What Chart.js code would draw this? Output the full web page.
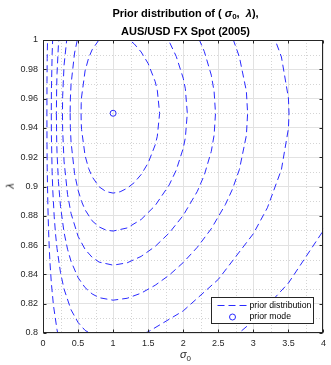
<!DOCTYPE html>
<html>
<head>
<meta charset="utf-8">
<script src="https://cdn.jsdelivr.net/npm/chart.js@4"></script>
<style>
  body { margin: 0; background: #fff; }
  #wrap { position: relative; width: 331px; height: 365px; font-family: "Liberation Sans", Arial, sans-serif; }
  #chart { position: absolute; left: 0; top: 0; }
  .title { position: absolute; left: 43px; width: 285px; text-align: center; font-weight: bold; font-size: 11px; line-height: 14px; color: #000; }
  .title sub { font-size: 8px; vertical-align: -2px; }
  .xlab { position: absolute; left: 43px; width: 285px; top: 348px; text-align: center; font-size: 11px; color: #262626; }
  .xlab sub { font-size: 8px; vertical-align: -3px; }
  .ylab { position: absolute; left: 7px; top: 180px; font-size: 11px; color: #262626; transform: rotate(-90deg); }
</style>
</head>
<body>
<div id="wrap">
  <canvas id="chart" width="331" height="365"></canvas>
  <div class="title" style="top:6px">Prior distribution of ( <i>σ</i><sub>0</sub>, &nbsp;<i>λ</i>),<br>AUS/USD FX Spot (2005)</div>
  <div class="xlab"><i>σ</i><sub>0</sub></div>
  <div class="ylab"><i>λ</i></div>
</div>
<script>
// axis ticks
const xTicks = [0, 0.5, 1, 1.5, 2, 2.5, 3, 3.5, 4];
const xTickLabels = ["0", "0.5", "1", "1.5", "2", "2.5", "3", "3.5", "4"];
const yTicks = [0.8, 0.82, 0.84, 0.86, 0.88, 0.9, 0.92, 0.94, 0.96, 0.98, 1];
const yTickLabels = ["0.8", "0.82", "0.84", "0.86", "0.88", "0.9", "0.92", "0.94", "0.96", "0.98", "1"];
const seriesLabels = ["prior distribution", "prior mode"];

// contour lines (sigma0, lambda), innermost first
const c1Sigma = [0.543, 0.545, 0.55, 0.6, 0.65, 0.7, 0.8, 0.9, 1.0, 1.1, 1.2, 1.3, 1.4, 1.5, 1.6, 1.63, 1.663,
  1.63, 1.6, 1.5, 1.4, 1.3, 1.2, 1.1, 1.0, 0.9, 0.8, 0.7, 0.65, 0.6, 0.55, 0.545, 0.543];
const c1Lambda = [0.95, 0.9435, 0.9389, 0.9211, 0.9124, 0.9067, 0.8998, 0.8965, 0.8955, 0.8964, 0.8988, 0.9026, 0.9082, 0.9161, 0.9284, 0.9343, 0.95,
  0.9657, 0.9716, 0.9839, 0.9918, 0.9974, 1.0012, 1.0036, 1.0045, 1.0035, 1.0002, 0.9933, 0.9876, 0.9789, 0.9611, 0.9565, 0.95];

const c2Sigma = [0.387, 0.39, 0.4, 0.45, 0.5, 0.55, 0.6, 0.7, 0.8, 0.9, 1.0, 1.2, 1.4, 1.6, 1.8, 1.9, 2.0, 2.03, 2.058,
  2.03, 2.0, 1.9, 1.8, 1.6, 1.4, 1.0, 0.6, 0.5, 0.45, 0.4, 0.39, 0.387];
const c2Lambda = [0.95, 0.9403, 0.9303, 0.9089, 0.8975, 0.8898, 0.8841, 0.8766, 0.8724, 0.8702, 0.8696, 0.8717, 0.8775, 0.887, 0.9011, 0.9112, 0.9261, 0.9333, 0.95,
  0.9667, 0.9739, 0.9888, 0.9989, 1.013, 1.0225, 1.0304, 1.0159, 1.0025, 0.9911, 0.9697, 0.9597, 0.95];

const c3Sigma = [0.2775, 0.28, 0.3, 0.35, 0.4, 0.5, 0.6, 0.7, 0.8, 1.0, 1.2, 1.4, 1.6, 1.8, 2.0, 2.2, 2.3, 2.4, 2.44, 2.46,
  2.44, 2.4, 2.3, 2.2, 2.0, 1.6, 1.0, 0.5, 0.4, 0.35, 0.3, 0.28, 0.2775];
const c3Lambda = [0.95, 0.9387, 0.9173, 0.8946, 0.8816, 0.866, 0.8571, 0.8517, 0.8484, 0.8463, 0.8479, 0.8523, 0.8591, 0.8683, 0.8803, 0.8966, 0.9078, 0.924, 0.9351, 0.95,
  0.9649, 0.976, 0.9922, 1.0034, 1.0197, 1.0409, 1.0537, 1.034, 1.0184, 1.0054, 0.9827, 0.9613, 0.95];

const c4Sigma = [0.1908, 0.195, 0.2, 0.22, 0.25, 0.3, 0.35, 0.4, 0.5, 0.6, 0.7, 0.8, 1.0, 1.2, 1.4, 1.6, 1.8, 2.0, 2.2, 2.4, 2.6, 2.7, 2.8, 2.9, 2.918,
  2.9, 2.8, 2.7, 2.6, 2.2, 1.6, 1.0, 0.5, 0.4, 0.35, 0.3, 0.25, 0.22, 0.2, 0.195, 0.1908];
const c4Lambda = [0.95, 0.9317, 0.923, 0.9033, 0.8863, 0.8687, 0.8572, 0.8489, 0.8378, 0.831, 0.8267, 0.8241, 0.8224, 0.8237, 0.8272, 0.8326, 0.8395, 0.8481, 0.8585, 0.8712, 0.8876, 0.898, 0.9115, 0.9348, 0.95,
  0.9652, 0.9885, 1.002, 1.0124, 1.0415, 1.0674, 1.0776, 1.0622, 1.0511, 1.0428, 1.0313, 1.0137, 0.9967, 0.977, 0.9683, 0.95];

const c5Sigma = [0.1183, 0.12, 0.13, 0.14, 0.16, 0.18, 0.2, 0.25, 0.3, 0.4, 0.5, 0.6, 0.8, 1.0, 1.2, 1.5, 2.0, 2.5, 3.0, 3.2, 3.4, 3.5, 3.508,
  3.5, 3.4, 3.2, 3.0, 2.0, 1.0, 0.4, 0.3, 0.25, 0.2, 0.18, 0.16, 0.14, 0.13, 0.12, 0.1183];
const c5Lambda = [0.95, 0.9345, 0.9101, 0.8969, 0.8793, 0.867, 0.8577, 0.8411, 0.83, 0.8158, 0.8072, 0.8018, 0.7962, 0.7948, 0.7959, 0.8008, 0.8151, 0.8366, 0.8678, 0.8855, 0.9116, 0.9396, 0.95,
  0.9604, 0.9884, 1.0145, 1.0322, 1.0849, 1.1052, 1.0842, 1.07, 1.0589, 1.0423, 1.033, 1.0207, 1.0031, 0.9899, 0.9655, 0.95];

const c6Sigma = [0.09, 0.08, 0.07, 0.06, 0.057, 0.0556, 0.057, 0.06, 0.07, 0.08, 0.09, 0.1, 0.12, 0.15, 0.2, 0.25, 0.3, 0.5, 1.0, 2.0, 2.5, 3.0, 3.5, 4.0, 4.2];
const c6Lambda = [1.0428, 1.0309, 1.0145, 0.9873, 0.9716, 0.95, 0.9284, 0.9127, 0.8855, 0.8691, 0.8572, 0.8478, 0.8335, 0.8185, 0.8022, 0.7913, 0.7835, 0.7664, 0.7566, 0.7725, 0.7881, 0.8083, 0.8341, 0.8701, 0.891];

const modeSigma = [1];
const modeLambda = [0.95];

const BLUE = "#2a2aff";
const AXIS = "#262626";
const DASH = [7, 4];
const FONT = "Liberation Sans";

const contours = [
  [c1Sigma, c1Lambda], [c2Sigma, c2Lambda], [c3Sigma, c3Lambda],
  [c4Sigma, c4Lambda], [c5Sigma, c5Lambda], [c6Sigma, c6Lambda],
];

const datasets = contours.map(([s, l]) => ({
  label: seriesLabels[0],
  data: s.map((v, i) => ({ x: v, y: l[i] })),
  showLine: true,
  borderColor: BLUE,
  borderWidth: 1,
  borderDash: DASH,
  pointRadius: 0,
  fill: false,
  tension: 0,
}));
datasets.push({
  label: seriesLabels[1],
  data: modeSigma.map((v, i) => ({ x: v, y: modeLambda[i] })),
  showLine: false,
  pointRadius: 3,
  pointBorderWidth: 1,
  pointBorderColor: BLUE,
  pointBackgroundColor: "rgba(0,0,0,0)",
});

// minor dotted grid, box with inward ticks, legend inside the axes
const frame = {
  id: "frame",
  beforeDatasetsDraw(chart) {
    const { ctx, chartArea: a, scales: { x, y } } = chart;
    ctx.save();
    ctx.strokeStyle = "#d4d4d4";
    ctx.lineWidth = 1;
    ctx.setLineDash([1, 2]);
    for (let i = 0; i < xTicks.length - 1; i++) {
      const px = Math.round(x.getPixelForValue((xTicks[i] + xTicks[i + 1]) / 2)) + 0.5;
      ctx.beginPath(); ctx.moveTo(px, a.top); ctx.lineTo(px, a.bottom); ctx.stroke();
    }
    for (let i = 0; i < yTicks.length - 1; i++) {
      const py = Math.round(y.getPixelForValue((yTicks[i] + yTicks[i + 1]) / 2)) + 0.5;
      ctx.beginPath(); ctx.moveTo(a.left, py); ctx.lineTo(a.right, py); ctx.stroke();
    }
    ctx.restore();
  },
  afterDraw(chart) {
    const { ctx, chartArea: a, scales: { x, y } } = chart;
    const L = Math.round(a.left) + 0.5, R = Math.round(a.right) - 0.5;
    const T = Math.round(a.top) + 0.5, B = Math.round(a.bottom) - 0.5;
    ctx.save();
    ctx.strokeStyle = AXIS;
    ctx.lineWidth = 1;
    ctx.strokeRect(L, T, R - L, B - T);
    ctx.beginPath();
    xTicks.forEach(v => {
      const px = Math.round(x.getPixelForValue(v)) + 0.5;
      ctx.moveTo(px, B); ctx.lineTo(px, B - 3);
      ctx.moveTo(px, T); ctx.lineTo(px, T + 3);
    });
    yTicks.forEach(v => {
      const py = Math.round(y.getPixelForValue(v)) + 0.5;
      ctx.moveTo(L, py); ctx.lineTo(L + 3, py);
      ctx.moveTo(R, py); ctx.lineTo(R - 3, py);
    });
    ctx.stroke();

    // legend
    const ds = chart.data.datasets;
    const lx = R - 111, ly = B - 35, lw = 102, lh = 26;
    ctx.fillStyle = "#fff";
    ctx.fillRect(lx, ly, lw, lh);
    ctx.strokeStyle = AXIS;
    ctx.strokeRect(lx, ly, lw, lh);
    ctx.strokeStyle = BLUE;
    ctx.setLineDash(DASH);
    ctx.beginPath(); ctx.moveTo(lx + 6, ly + 8); ctx.lineTo(lx + 36, ly + 8); ctx.stroke();
    ctx.setLineDash([]);
    ctx.beginPath(); ctx.arc(lx + 21, ly + 19.5, 3, 0, Math.PI * 2); ctx.stroke();
    ctx.fillStyle = "#000";
    ctx.font = "8.7px '" + FONT + "'";
    ctx.textBaseline = "middle";
    ctx.fillText(ds[0].label, lx + 38, ly + 8);
    ctx.fillText(ds[ds.length - 1].label, lx + 38, ly + 19.5);
    ctx.restore();
  },
};

new Chart(document.getElementById("chart"), {
  type: "scatter",
  data: { datasets },
  options: {
    responsive: false,
    animation: false,
    events: [],
    layout: { padding: { left: 0, right: 3, top: 40, bottom: 0 } },
    plugins: { legend: { display: false }, tooltip: { enabled: false }, title: { display: false } },
    scales: {
      x: {
        type: "linear",
        min: 0,
        max: 4,
        afterBuildTicks: s => { s.ticks = xTicks.map(v => ({ value: v })); },
        afterFit: s => { s.height = 32; },
        ticks: {
          callback: (v, i) => xTickLabels[i],
          font: { family: FONT, size: 9 },
          color: AXIS,
          padding: 5,
          maxRotation: 0,
        },
        grid: { color: "#e2e2e2", drawTicks: false },
        border: { display: false },
      },
      y: {
        type: "linear",
        min: 0.8,
        max: 1,
        afterBuildTicks: s => { s.ticks = yTicks.map(v => ({ value: v })); },
        afterFit: s => { s.width = 43; },
        ticks: {
          callback: (v, i) => yTickLabels[i],
          font: { family: FONT, size: 9 },
          color: AXIS,
          padding: 5,
        },
        grid: { color: "#e2e2e2", drawTicks: false },
        border: { display: false },
      },
    },
  },
  plugins: [frame],
});
</script>
</body>
</html>
